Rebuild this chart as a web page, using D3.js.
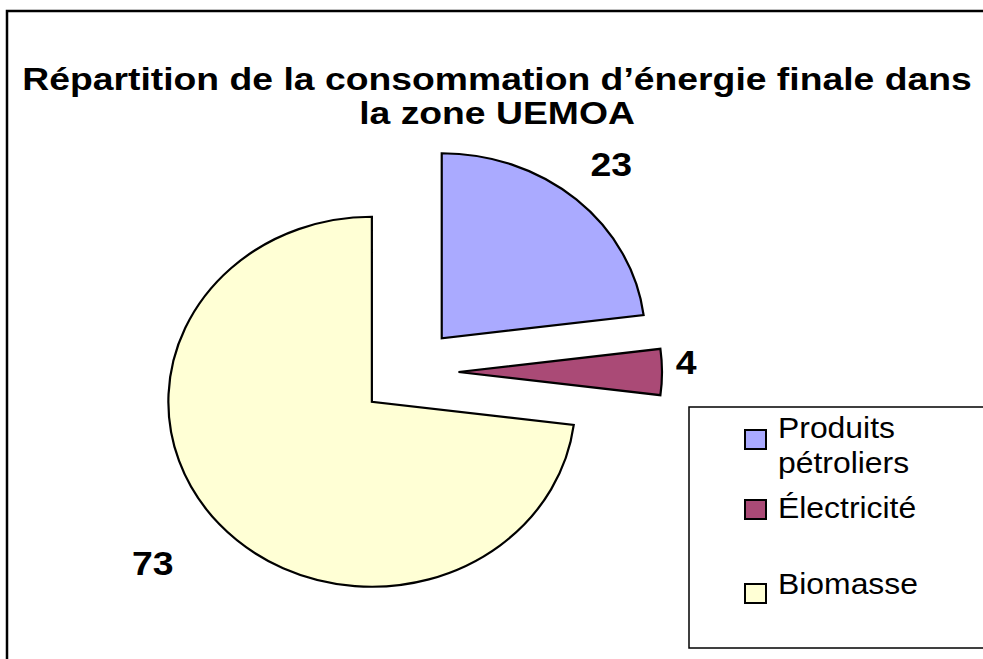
<!DOCTYPE html>
<html>
<head>
<meta charset="utf-8">
<script src="https://cdn.jsdelivr.net/npm/d3@7"></script>
<style>
  html, body { margin: 0; padding: 0; background: #fff; }
  svg { display: block; }
  text { font-family: "Liberation Sans", Arial, sans-serif; fill: #000; }
</style>
</head>
<body>
<svg id="chart" width="983" height="659"></svg>
<script>
// ---- data ----
const categories = ["Produits pétroliers", "Électricité", "Biomasse"];
const values = [23, 4, 73];
const valueLabels = ["23", "4", "73"];
const legendLines = [["Produits", "pétroliers"], ["Électricité"], ["Biomasse"]];
const titleLines = ["Répartition de la consommation d’énergie finale dans", "la zone UEMOA"];

// ---- styles / layout ----
const colors = ["#AAAAFF", "#AA4A76", "#FFFFD5"];
const sx = 1.1;              // horizontal stretch of the whole chart
const R = 185;               // pie radius (vertical)
const cx = 409, cy = 372;    // pie centre
const explode = 45;          // explosion distance
const labelDist = [1.26, 1.12, 1.384];
const labelAngleShift = [0, -0.04, 0.037];

const svg = d3.select("#chart");

// outer border
svg.append("rect")
  .attr("x", 7).attr("y", 11)
  .attr("width", 1000).attr("height", 700)
  .attr("fill", "#fff").attr("stroke", "#000").attr("stroke-width", 2.5);

// title (line 1 stretched to the reference width; line 2 uses the same stretch)
const title = svg.append("g");
const titleTexts = titleLines.map((t, i) =>
  title.append("text")
    .attr("text-anchor", "middle")
    .attr("font-size", 32).attr("font-weight", "bold")
    .text(t));
const natural = titleTexts[0].node().getComputedTextLength();
const tsx = 950 / natural;
titleTexts.forEach((t, i) =>
  t.attr("transform", `translate(497,${90 + i * 34}) scale(${tsx},1)`));

// pie
const pie = d3.pie().sort(null).value(d => d)(values);
const arc = d3.arc().innerRadius(0).outerRadius(R);

const slices = svg.append("g")
  .attr("transform", `translate(${cx},${cy}) scale(${sx},1)`);

slices.selectAll("path")
  .data(pie)
  .join("path")
  .attr("transform", d => {
    const m = (d.startAngle + d.endAngle) / 2;
    return `translate(${explode * Math.sin(m)},${-explode * Math.cos(m)})`;
  })
  .attr("d", arc)
  .attr("fill", (d, i) => colors[i])
  .attr("stroke", "#000")
  .attr("stroke-width", 2.2)
  .attr("stroke-linejoin", "miter")
  .attr("vector-effect", "non-scaling-stroke");

// value labels
svg.append("g").selectAll("text")
  .data(pie)
  .join("text")
  .attr("transform", (d, i) => {
    const m = (d.startAngle + d.endAngle) / 2 + labelAngleShift[i];
    const r = explode + R * labelDist[i];
    const x = cx + sx * r * Math.sin(m);
    const y = cy - r * Math.cos(m);
    return `translate(${x},${y}) scale(${sx},1)`;
  })
  .attr("text-anchor", "middle")
  .attr("dy", "0.36em")
  .attr("font-size", 34).attr("font-weight", "bold")
  .text((d, i) => valueLabels[i]);

// legend
const legend = svg.append("g");
legend.append("rect")
  .attr("x", 689).attr("y", 407)
  .attr("width", 400).attr("height", 241)
  .attr("fill", "#fff").attr("stroke", "#000").attr("stroke-width", 1.5);

const legendBase = [438, 518, 594];
const legendSquareY = [430, 500, 584];
categories.forEach((c, i) => {
  legend.append("rect")
    .attr("x", 745).attr("y", legendSquareY[i])
    .attr("width", 21).attr("height", 19)
    .attr("fill", colors[i]).attr("stroke", "#000").attr("stroke-width", 2);
  legendLines[i].forEach((ln, j) => {
    legend.append("text")
      .attr("transform", `translate(778,${legendBase[i] + j * 35}) scale(${sx},1)`)
      .attr("font-size", 29)
      .text(ln);
  });
});
</script>
</body>
</html>
